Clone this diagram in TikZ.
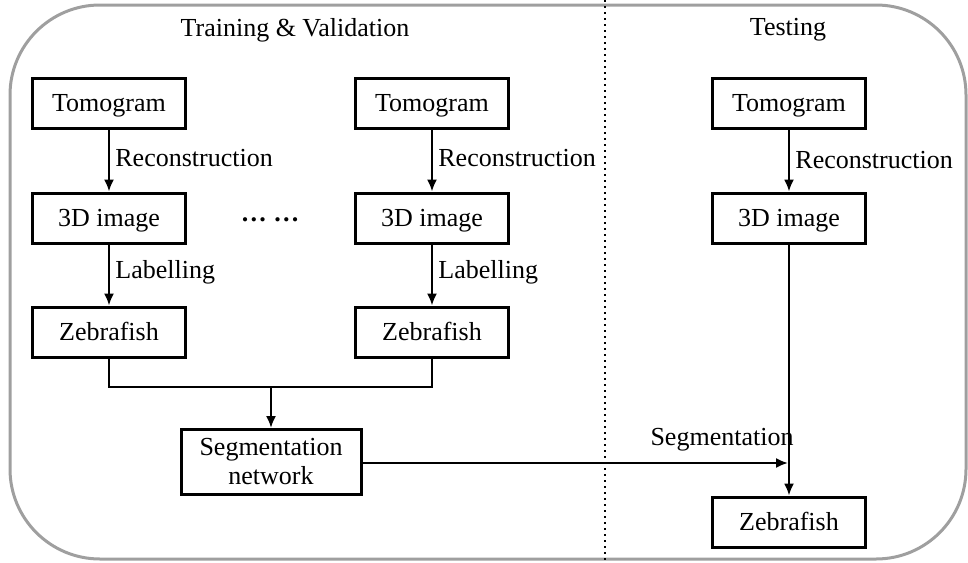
\documentclass[tikz,border=0pt]{standalone}
\usepackage{fontspec}
\setmainfont{Liberation Serif}
\usetikzlibrary{arrows.meta}
\begin{document}
\begin{tikzpicture}[x=0.5pt,y=-0.5pt,
  font=\fontsize{13pt}{15pt}\selectfont,
  box/.style={draw,line width=1.5pt,minimum width=76.5pt,minimum height=25pt,inner sep=0pt,
              text height=10pt,text depth=2pt},
  arr/.style={line width=1pt,-{Latex[length=6pt,width=5pt]}},
  lbl/.style={anchor=west,inner sep=0pt}]
\useasboundingbox (0,0) rectangle (968,562);
% outer frame and divider
\draw[gray!75,line width=1.5pt,rounded corners=45pt] (10,5) rectangle (966,559);
\draw[line width=1pt,dotted] (605,0) -- (605,562);
% section titles
\node (ttrain) at (295,30) {Training \& Validation};
\node (ttest) at (788,30) {Testing};
% left training column
\node[box] (tomL) at (109,103) {Tomogram};
\node[box] (imgL) at (109,218) {3D image};
\node[box] (zebL) at (109,332) {Zebrafish};
% middle training column
\node[box] (tomM) at (432,103) {Tomogram};
\node[box] (imgM) at (432,218) {3D image};
\node[box] (zebM) at (432,332) {Zebrafish};
\node (dots) at (270,220) {\textbf{\ldots\ \ldots}};
% testing column
\node[box] (tomR) at (789,103) {Tomogram};
\node[box] (imgR) at (789,218) {3D image};
\node[box] (zebR) at (789,522) {Zebrafish};
% network
\node[draw,line width=1.5pt,minimum width=90pt,minimum height=32.5pt,inner sep=0pt,align=center,
      font=\fontsize{13pt}{14.5pt}\selectfont] (seg) at (271,462) {Segmentation\\network};
% connectors
\draw[arr] (tomL) -- (imgL);
\draw[arr] (imgL) -- (zebL);
\draw[arr] (tomM) -- (imgM);
\draw[arr] (imgM) -- (zebM);
\draw[arr] (tomR) -- (imgR);
\draw[arr] (imgR) -- (zebR);
\node[lbl] (rL) at (115,158) {Reconstruction};
\node[lbl] (lL) at (115,272) {Labelling};
\node[lbl] (rM) at (438,158) {Reconstruction};
\node[lbl] (lM) at (438,272) {Labelling};
\node[lbl] (rR) at (795,160) {Reconstruction};
% merge of training outputs
\draw[line width=1pt] (zebL.south) -- ++(0,28) -| (zebM.south);
\coordinate (mg) at (271,388);
\draw[arr] (mg) -- (seg);
% segmentation of test image
\coordinate (hit) at (788,463);
\draw[arr] (seg.east |- hit) -- (hit);
\node (slbl) at (722,440) {Segmentation};
\end{tikzpicture}
\end{document}
